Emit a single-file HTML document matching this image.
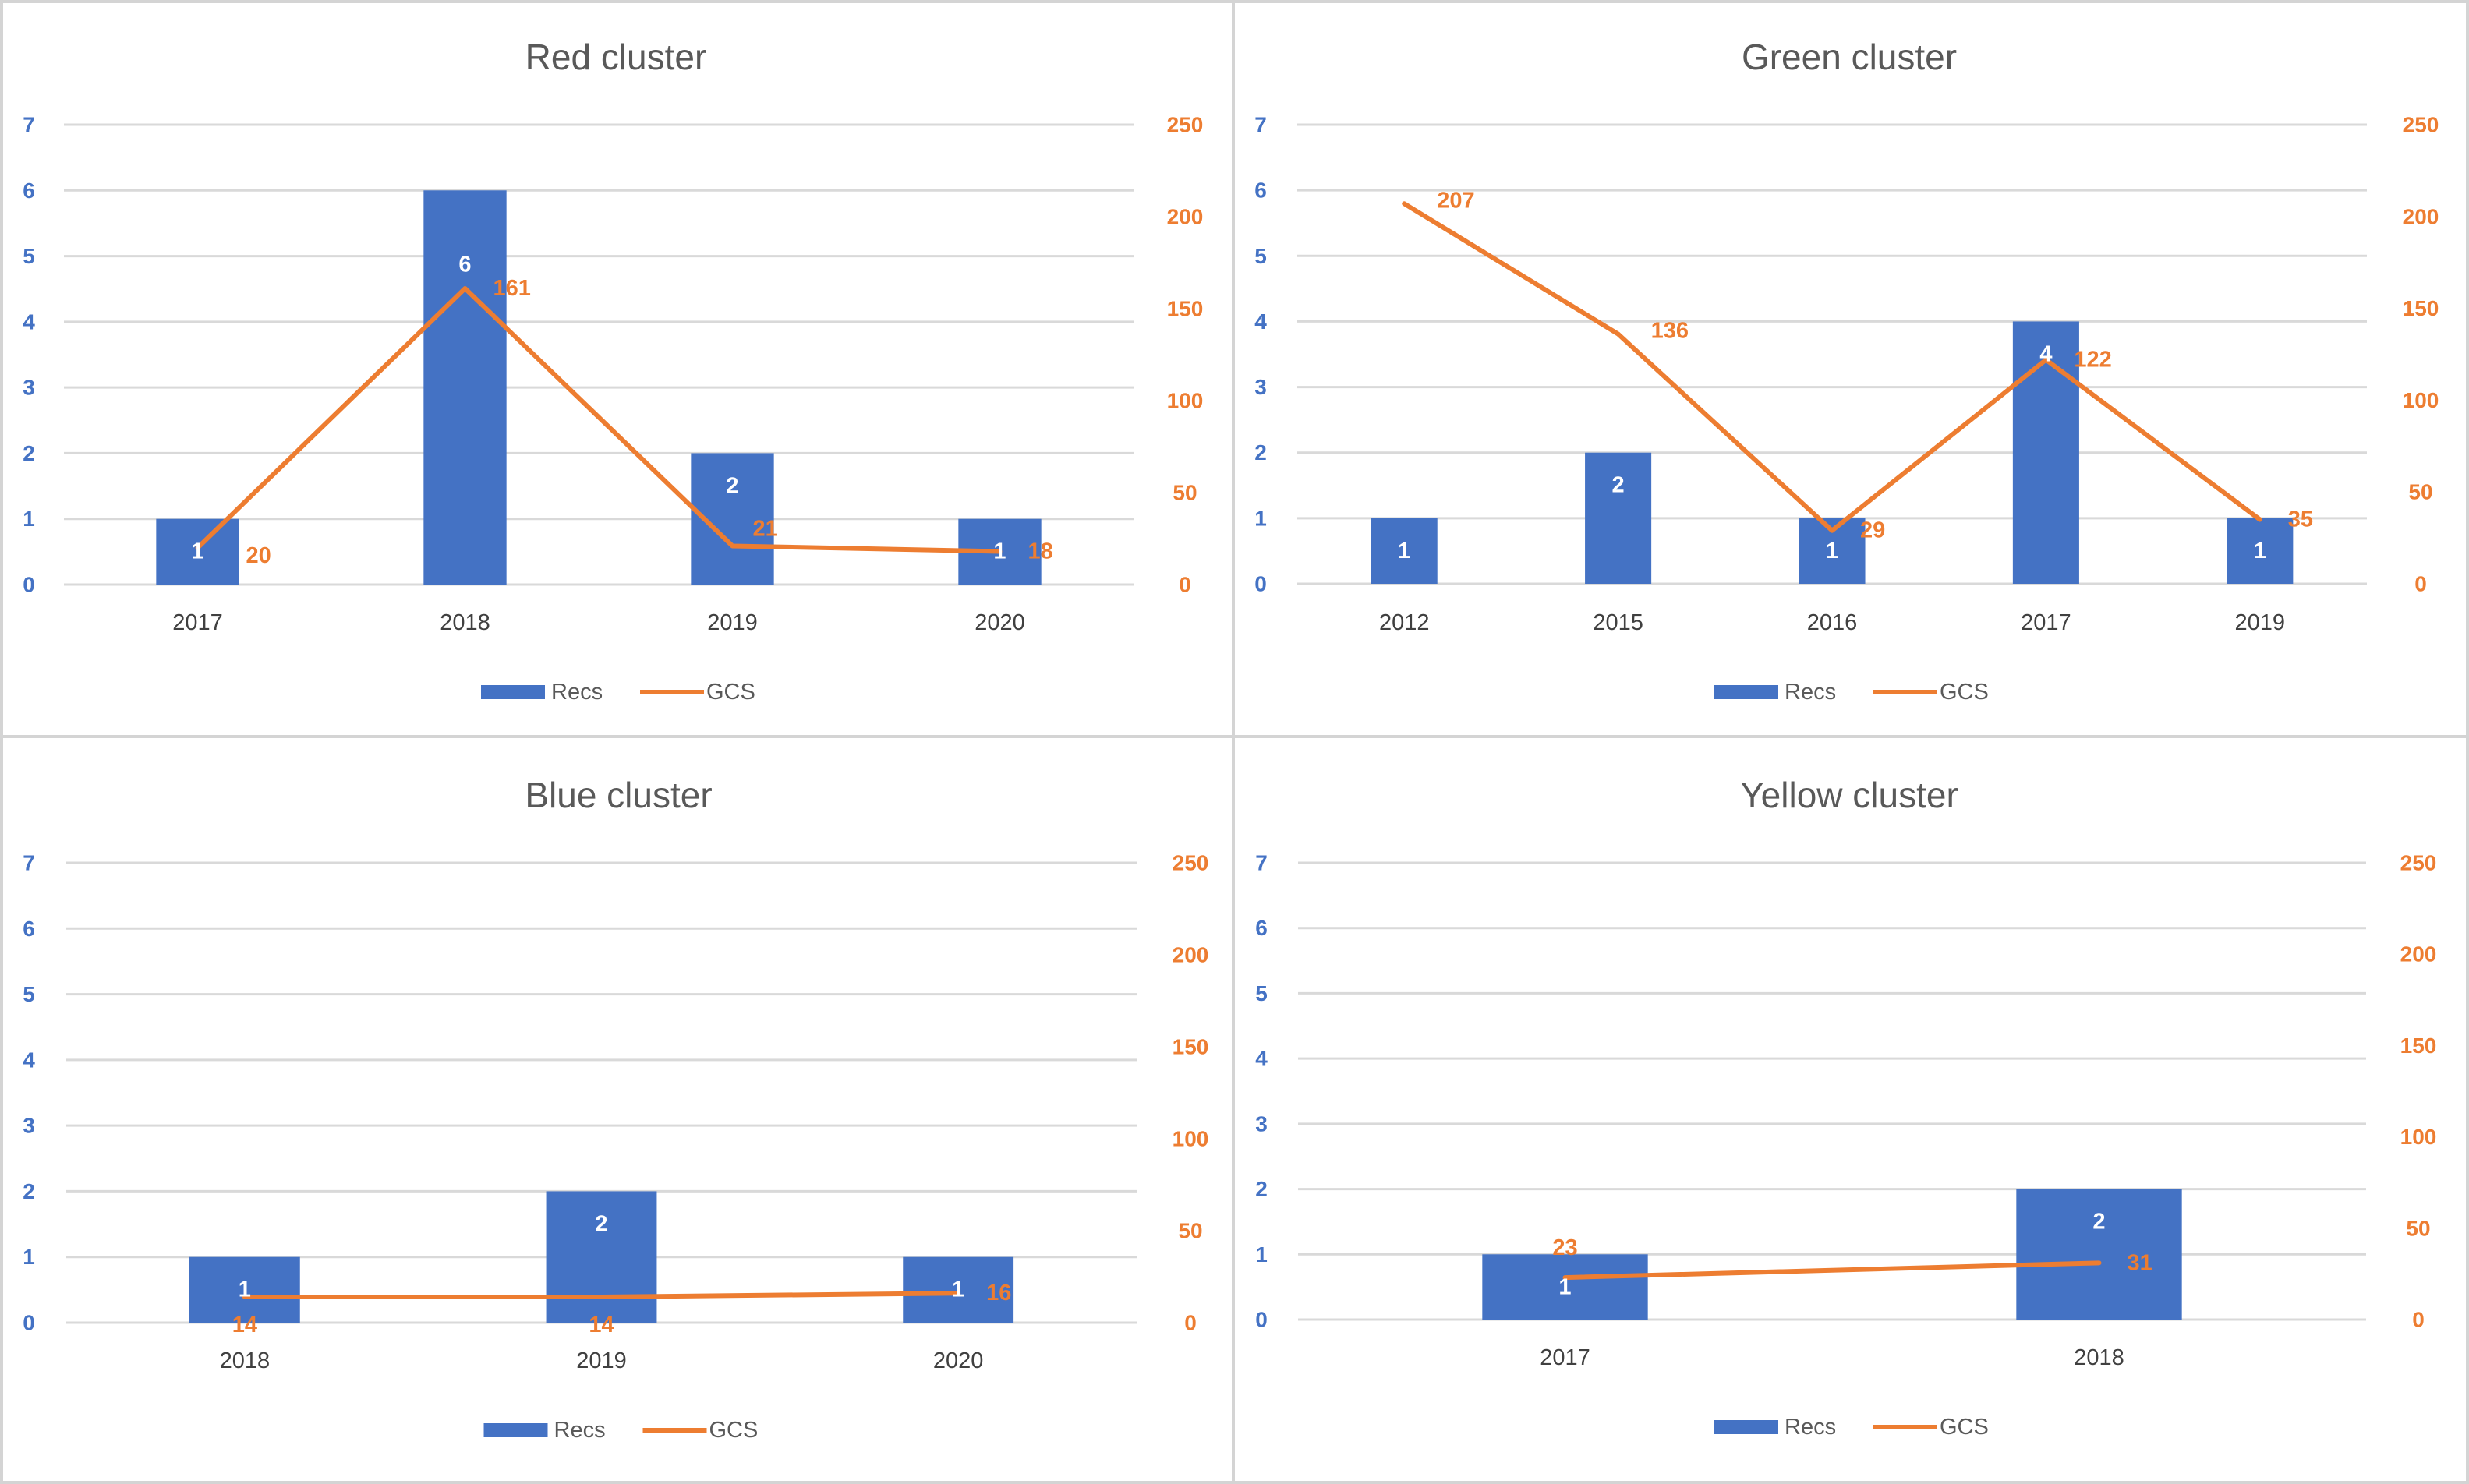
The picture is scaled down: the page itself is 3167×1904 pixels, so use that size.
<!DOCTYPE html>
<html><head><meta charset="utf-8"><style>
html,body{margin:0;padding:0;background:#fff;}
svg{display:block;font-family:"Liberation Sans",sans-serif;}
</style></head><body>
<svg id="chart" width="3167" height="1904" viewBox="0 0 3167 1904" xmlns="http://www.w3.org/2000/svg">
<rect x="2" y="2" width="3163" height="1900" fill="#fff" stroke="#d4d4d4" stroke-width="4"/>
<line x1="1582" y1="0" x2="1582" y2="1904" stroke="#d4d4d4" stroke-width="4"/>
<line x1="0" y1="945" x2="3167" y2="945" stroke="#d4d4d4" stroke-width="4"/>
</svg>
<script>
const redCats=['2017','2018','2019','2020'];
const redRecs=[1,6,2,1];
const redGcs=[20,161,21,18];
const greenCats=['2012','2015','2016','2017','2019'];
const greenRecs=[1,2,1,4,1];
const greenGcs=[207,136,29,122,35];
const blueCats=['2018','2019','2020'];
const blueRecs=[1,2,1];
const blueGcs=[14,14,16];
const yellowCats=['2017','2018'];
const yellowRecs=[1,2];
const yellowGcs=[23,31];
const leftTicks=[0,1,2,3,4,5,6,7];
const rightTicks=[0,50,100,150,200,250];

const svg=document.getElementById('chart');
const NS='http://www.w3.org/2000/svg';
function mk(tag,attrs,text){const e=document.createElementNS(NS,tag);for(const k in attrs)e.setAttribute(k,attrs[k]);if(text!==undefined)e.textContent=text;svg.appendChild(e);return e;}

const panels=[
 {key:'red',title:'Red cluster',cats:redCats,recs:redRecs,gcs:redGcs,pos:['rf','r','ra','r'],x0:82,x1:1454,yTop:160,yBot:750,lx:37,rx:1520,ty:73,yy:799,ly:888},
 {key:'green',title:'Green cluster',cats:greenCats,recs:greenRecs,gcs:greenGcs,pos:['ru','ru','r','r','r'],x0:1664,x1:3036,yTop:160,yBot:749,lx:1617,rx:3105,ty:73,yy:799,ly:888},
 {key:'blue',title:'Blue cluster',cats:blueCats,recs:blueRecs,gcs:blueGcs,pos:['b','b','r'],x0:85,x1:1458,yTop:1107,yBot:1697,lx:37,rx:1527,ty:1020,yy:1746,ly:1835},
 {key:'yellow',title:'Yellow cluster',cats:yellowCats,recs:yellowRecs,gcs:yellowGcs,pos:['a','r'],x0:1665,x1:3035,yTop:1107,yBot:1693,lx:1618,rx:3102,ty:1020,yy:1742,ly:1831}
];

panels.forEach(p=>{
 const yL=v=>p.yBot-(v/7)*(p.yBot-p.yTop);
 const yR=v=>p.yBot-(v/250)*(p.yBot-p.yTop);
 const band=(p.x1-p.x0)/p.cats.length;
 const xC=i=>p.x0+band*(i+0.5);
 const bw=band*0.31;
 const cx=(p.x0+p.x1)/2;
 let t=mk('text',{x:cx+22,y:p.ty,'text-anchor':'middle','dominant-baseline':'central','font-size':46,fill:'#595959'},p.title);
 
 
 leftTicks.forEach(v=>{
  const g=mk('line',{x1:p.x0,x2:p.x1,y1:yL(v),y2:yL(v),stroke:'#d9d9d9','stroke-width':3});
  
  
  const l=mk('text',{x:p.lx,y:yL(v),'text-anchor':'middle','dominant-baseline':'central','font-size':28,'font-weight':'bold',fill:'#4472C4'},String(v));
  
  
 });
 rightTicks.forEach(v=>{
  const l=mk('text',{x:p.rx,y:yR(v),'text-anchor':'middle','dominant-baseline':'central','font-size':28,'font-weight':'bold',fill:'#ED7D31'},String(v));
  
  
 });
 p.cats.forEach((c,i)=>{
  const top=yL(p.recs[i]);
  const b=mk('rect',{x:xC(i)-bw/2,y:top,width:bw,height:p.yBot-top,fill:'#4472C4'});
  
  
  const yl=mk('text',{x:xC(i),y:p.yy,'text-anchor':'middle','dominant-baseline':'central','font-size':29,fill:'#404040'},c);
  
  
 });
 const pts=p.gcs.map((v,i)=>xC(i)+','+yR(v)).join(' ');
 const ln=mk('polyline',{points:pts,fill:'none',stroke:'#ED7D31','stroke-width':6,'stroke-linejoin':'round','stroke-linecap':'round'});
 
 
 p.cats.forEach((c,i)=>{
  const top=yL(p.recs[i]);
  const dy=p.recs[i]>=5?95:42;
  const rl=mk('text',{x:xC(i),y:Math.min(top+dy,p.yBot-6),'text-anchor':'middle','dominant-baseline':'central','font-size':29,'font-weight':'bold',fill:'#fff'},String(p.recs[i]));
  
  
  const px=xC(i),py=yR(p.gcs[i]);let ax=px,ay=py,anc='middle';
  const ps=p.pos[i];
  if(ps==='r'){ax=px+36;anc='start';}
  else if(ps==='rf'){ax=px+62;ay=py+10;anc='start';}
  else if(ps==='ru'){ax=px+42;ay=py-4;anc='start';}
  else if(ps==='ra'){ax=px+26;ay=py-22;anc='start';}
  else if(ps==='a'){ay=py-38;}
  else if(ps==='b'){ay=py+36;}
  const gl=mk('text',{x:ax,y:ay,'text-anchor':anc,'dominant-baseline':'central','font-size':29,'font-weight':'bold',fill:'#ED7D31'},String(p.gcs[i]));
  
  
 });
 const lb=mk('rect',{x:cx-151,y:p.ly-9,width:82,height:18,fill:'#4472C4'});
 
 
 const lt=mk('text',{x:cx-61,y:p.ly,'dominant-baseline':'central','font-size':29,fill:'#595959'},'Recs');
 
 
 const ll=mk('line',{x1:cx+53,x2:cx+135,y1:p.ly,y2:p.ly,stroke:'#ED7D31','stroke-width':6});
 
 
 const lg=mk('text',{x:cx+138,y:p.ly,'dominant-baseline':'central','font-size':29,fill:'#595959'},'GCS');
 
 
});
</script>
</body></html>
